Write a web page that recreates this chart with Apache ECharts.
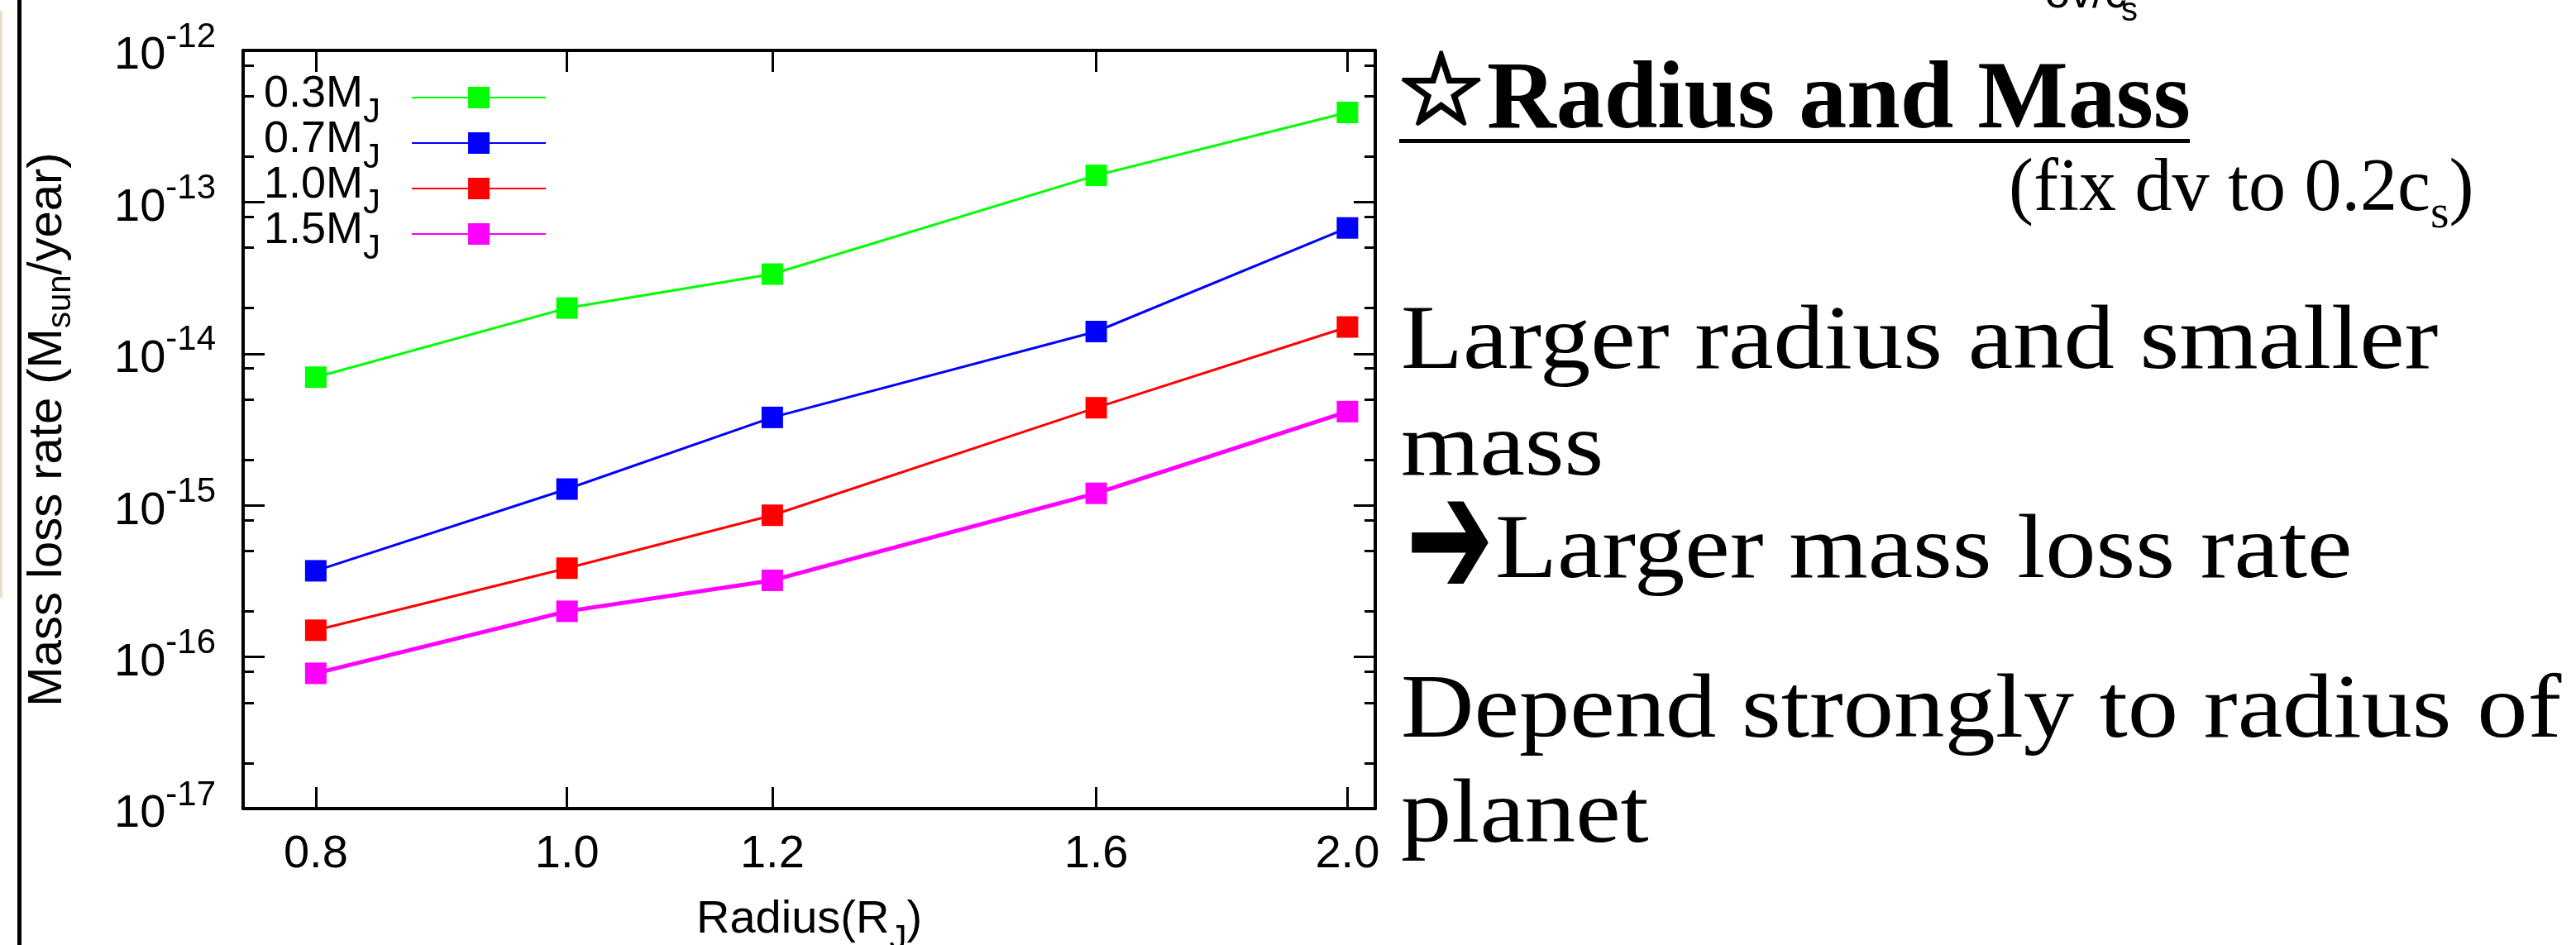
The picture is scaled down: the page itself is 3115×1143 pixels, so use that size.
<!DOCTYPE html>
<html>
<head>
<meta charset="utf-8">
<title>Radius and Mass</title>
<script src="https://cdn.jsdelivr.net/npm/echarts@6/dist/echarts.min.js"></script>
<style>
  html, body { margin: 0; padding: 0; background: #fff; }
  #chart { width: 3115px; height: 1143px; }
</style>
</head>
<body>
<div id="chart"></div>
<script>
// radius of planet (R_J), x axis
const radius = [0.8, 1.0, 1.2, 1.6, 2.0]
// planet mass of each curve
const massNames = ['0.3M_J', '0.7M_J', '1.0M_J', '1.5M_J']
// mass loss rate (M_sun/year) for each mass
const rateM03 = [7.0e-15, 2.0e-14, 3.35e-14, 1.5e-13, 3.9e-13]
const rateM07 = [3.7e-16, 1.28e-15, 3.8e-15, 1.4e-14, 6.75e-14]
const rateM10 = [1.5e-16, 3.85e-16, 8.6e-16, 4.4e-15, 1.5e-14]
const rateM15 = [7.8e-17, 2.0e-16, 3.2e-16, 1.2e-15, 4.15e-15]
// y ticks: decades and minor steps inside a decade
const decades = [1e-17, 1e-16, 1e-15, 1e-14, 1e-13, 1e-12]
const minorSteps = [2, 5, 8]

// slide text on the right
const headingText = 'Radius and Mass'
const bodyLines = ['Larger radius and smaller', 'mass', 'Larger mass loss rate', 'Depend strongly to radius of', 'planet']

const rateSeries = [rateM03, rateM07, rateM10, rateM15]
const minorValues = decades.slice(0, -1).flatMap(d => minorSteps.map(m => m * d))

const sansFont = 'Liberation Sans'
const serifFont = 'Liberation Serif'
const seriesStyle = [
  { color: '#00ff00', width: 3 },
  { color: '#0000ff', width: 3 },
  { color: '#ff0000', width: 3 },
  { color: '#ff00ff', width: 5 }
]

const frameLine = { show: true, onZero: false, lineStyle: { color: '#000', width: 4 } }
const tickLine = { color: '#000', width: 3 }

// rich token helper: size = font size, h = token box height, lh = line height
function tok (size, h, lh, align, extra) {
  return Object.assign({ fontSize: size, fontFamily: sansFont, color: '#000', height: h, lineHeight: lh, verticalAlign: align }, extra)
}

function logY (extra) {
  return Object.assign({
    type: 'log',
    logBase: 10,
    min: 1e-17,
    max: 1e-12,
    gridIndex: 0,
    splitLine: { show: false },
    minorTick: { show: false },
    minorSplitLine: { show: false },
    axisLabel: { show: false }
  }, extra)
}

function logX (extra) {
  return Object.assign({
    type: 'log',
    logBase: 10,
    min: 0.75,
    max: 2.05,
    gridIndex: 0,
    splitLine: { show: false },
    minorTick: { show: false },
    minorSplitLine: { show: false },
    axisLine: frameLine,
    axisTick: { show: true, inside: true, length: 26, lineStyle: tickLine, customValues: radius },
    axisLabel: { show: false }
  }, extra)
}

function bodyText (text, x, y) {
  return {
    type: 'text',
    x: x,
    y: y,
    scaleX: 1.115,
    silent: true,
    style: { text: text, font: '110px "' + serifFont + '"', fill: '#000', align: 'left', verticalAlign: 'middle' }
  }
}

const chart = echarts.init(document.getElementById('chart'), null, { renderer: 'canvas' })

const option = {
  animation: false,
  backgroundColor: '#fff',
  grid: {
    left: 294,
    right: 1452,
    top: 61,
    bottom: 165,
    outerBoundsMode: 'none',
    containLabel: false
  },
  legend: {
    orient: 'vertical',
    left: 319,
    top: 87,
    padding: 0,
    align: 'right',
    itemWidth: 162,
    itemHeight: 32.5,
    itemGap: -15,
    selectedMode: false,
    data: massNames,
    formatter: name => '{t|' + name.split('_')[0] + '}{j|' + name.split('_')[1] + '}',
    textStyle: {
      color: '#000',
      fontFamily: sansFont,
      fontSize: 54,
      rich: {
        t: tok(54, 48, 56, 'top'),
        j: tok(42, 20, 56, 'bottom', { padding: [0, 33, 0, 0] })
      }
    }
  },
  xAxis: [
    logX({
      position: 'bottom',
      axisLabel: {
        show: true,
        customValues: radius,
        margin: 28,
        color: '#000',
        fontFamily: sansFont,
        fontSize: 56,
        lineHeight: 56,
        formatter: v => Number(v).toFixed(1)
      },
      name: '{t|Radius(R}{j|J}{t|)}',
      nameLocation: 'middle',
      nameGap: 107,
      nameTextStyle: {
        rich: {
          t: tok(56, 56, 66, 'top'),
          j: tok(42, 30, 66, 'bottom')
        }
      }
    }),
    logX({ position: 'top' })
  ],
  yAxis: [
    // left axis with decade labels
    logY({
      position: 'left',
      axisLine: frameLine,
      axisTick: { show: true, inside: true, length: 26, lineStyle: tickLine, customValues: decades },
      axisLabel: {
        show: true,
        customValues: decades,
        margin: 33,
        color: '#000',
        fontFamily: sansFont,
        formatter: v => '{b|10}{e|' + Math.round(Math.log10(v)) + '}',
        rich: {
          b: tok(56, 56, 70, 'bottom'),
          e: tok(42, 38, 70, 'top')
        }
      },
      name: '{t|Mass loss rate (M}{s|sun}{t|/year)}',
      nameLocation: 'middle',
      nameRotate: 90,
      nameGap: 197,
      nameTextStyle: {
        rich: {
          t: tok(58, 58, 68, 'top'),
          s: tok(40, 46, 68, 'bottom')
        }
      }
    }),
    // mirrored right axis
    logY({
      position: 'right',
      axisLine: frameLine,
      axisTick: { show: true, inside: true, length: 26, lineStyle: tickLine, customValues: decades }
    }),
    // minor ticks (2, 5, 8) left and right
    logY({
      position: 'left',
      axisLine: { show: false },
      axisTick: { show: true, inside: true, length: 13, lineStyle: tickLine, customValues: minorValues }
    }),
    logY({
      position: 'right',
      axisLine: { show: false },
      axisTick: { show: true, inside: true, length: 13, lineStyle: tickLine, customValues: minorValues }
    })
  ],
  series: massNames.map((name, i) => ({
    name: name,
    type: 'line',
    xAxisIndex: 0,
    yAxisIndex: 0,
    data: radius.map((r, k) => [r, rateSeries[i][k]]),
    symbol: 'rect',
    symbolSize: 26,
    z: 2 + i,
    itemStyle: { color: seriesStyle[i].color },
    lineStyle: { color: seriesStyle[i].color, width: seriesStyle[i].width },
    emphasis: { disabled: true }
  })),
  graphic: [
    // slide edge on the left
    { type: 'rect', silent: true, shape: { x: 21, y: 0, width: 5, height: 1143 }, style: { fill: '#000' } },
    { type: 'rect', silent: true, shape: { x: 0, y: 13, width: 3, height: 710 }, style: { fill: '#efdcc6' } },
    // label cut at the top of the slide
    { type: 'text', x: 2473, y: -6, silent: true, style: { text: 'δv/c', font: '54px "' + sansFont + '"', fill: '#000', verticalAlign: 'middle' } },
    { type: 'text', x: 2565, y: 14, silent: true, style: { text: 's', font: '40px "' + sansFont + '"', fill: '#000', verticalAlign: 'middle' } },
    // heading
    { type: 'text', x: 1688, y: 118, silent: true, style: { text: '☆', font: 'bold 122px "DejaVu Sans"', fill: '#000', stroke: '#000', lineWidth: 4, verticalAlign: 'middle' } },
    { type: 'text', x: 1798, y: 124, silent: true, style: { text: headingText, font: 'bold 116px "' + serifFont + '"', fill: '#000', verticalAlign: 'middle' } },
    { type: 'rect', silent: true, shape: { x: 1692, y: 168, width: 956, height: 5 }, style: { fill: '#000' } },
    {
      type: 'text',
      x: 2429,
      y: 235,
      silent: true,
      style: {
        text: '{a|(fix dv to 0.2c}{s|s}{a|)}',
        verticalAlign: 'middle',
        rich: {
          a: { fontSize: 90, fontFamily: serifFont, fill: '#000', height: 70, lineHeight: 80, verticalAlign: 'top' },
          s: { fontSize: 58, fontFamily: serifFont, fill: '#000', height: 30, lineHeight: 80, verticalAlign: 'bottom' }
        }
      }
    },
    // body text
    bodyText(bodyLines[0], 1694, 416),
    bodyText(bodyLines[1], 1694, 545),
    { type: 'text', x: 1700, y: 668, scaleX: 1.15, scaleY: 1.9, silent: true, style: { text: '➔', font: '110px "DejaVu Sans"', fill: '#000', verticalAlign: 'middle' } },
    bodyText(bodyLines[2], 1808, 669),
    bodyText(bodyLines[3], 1694, 862),
    bodyText(bodyLines[4], 1694, 989)
  ]
}

chart.setOption(option)
</script>
</body>
</html>
